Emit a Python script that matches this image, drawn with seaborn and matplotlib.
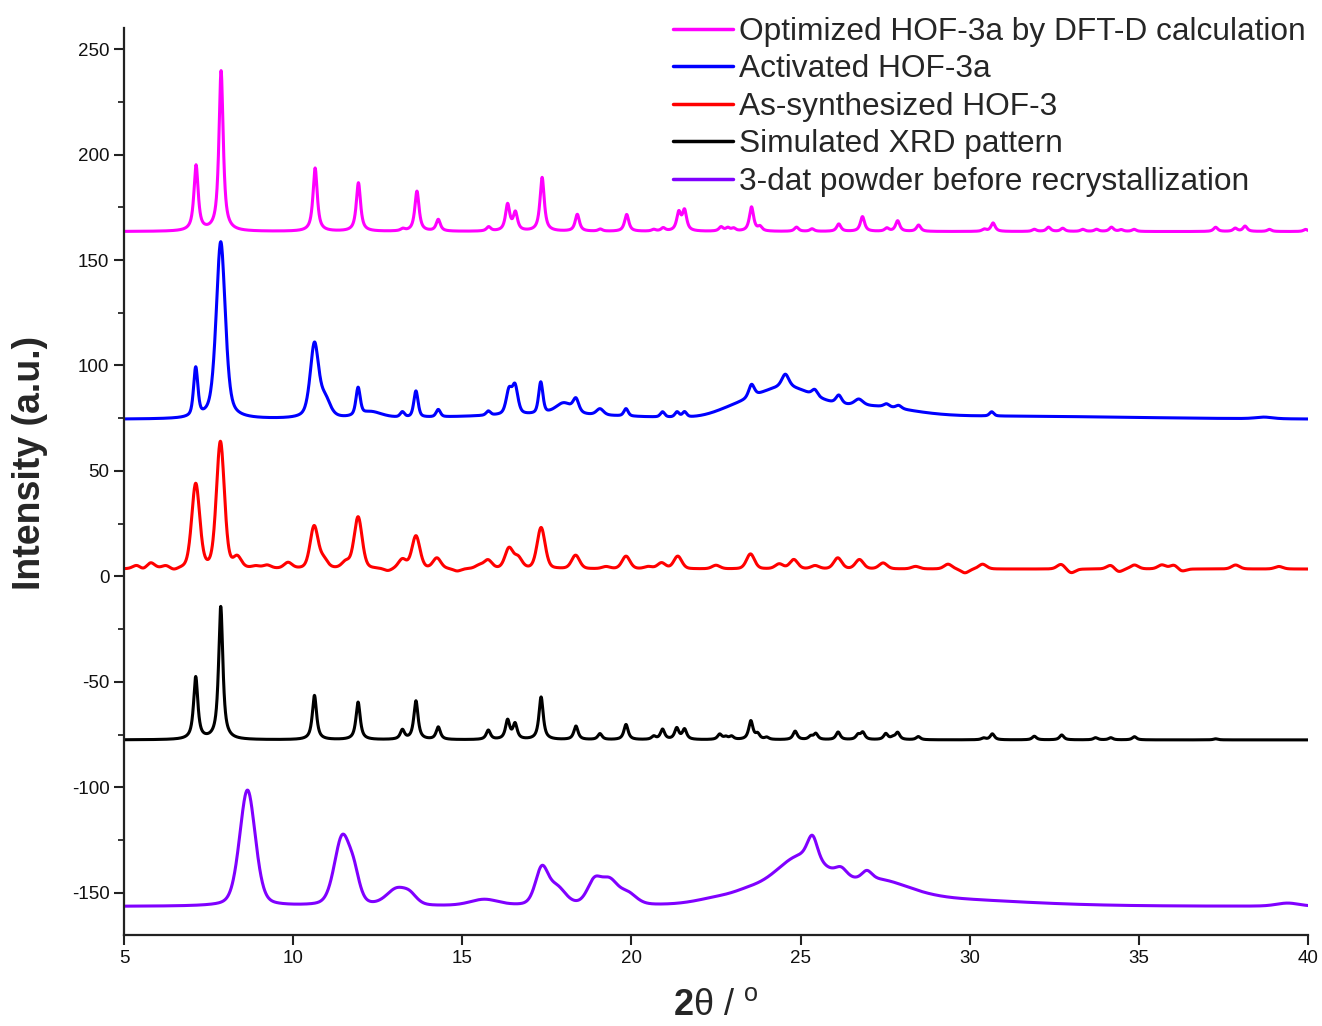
import numpy as np
import pandas as pd
import matplotlib
matplotlib.use('Agg')
import matplotlib.pyplot as plt
from matplotlib.ticker import MultipleLocator
import seaborn as sns

# Peak lists (2-theta, height above baseline, FWHM)
# Optimized HOF-3a by DFT-D calculation
opt_base = 163.5
opt_pos = [7.13, 7.87, 10.65, 11.93, 13.24, 13.66, 14.29, 15.78, 16.34, 16.57, 17.36,
           18.40, 19.08, 19.86, 20.66, 20.94, 21.40, 21.57, 22.65, 22.85, 23.02, 23.55,
           23.80, 24.88, 25.34, 26.13, 26.83, 27.55, 27.87, 28.49, 30.43, 30.69, 31.91,
           32.33, 32.75, 33.34, 33.75, 34.19, 34.48, 34.86, 37.27, 37.85, 38.14, 38.86, 39.93]
opt_hgt = [31, 76, 30, 23, 1, 19, 5.5, 2, 12.5, 8.5, 25.5,
           8, 1, 8, 0.8, 1.5, 8.5, 9.5, 2, 1.5, 1.3, 11.5,
           2, 2, 1.2, 3.5, 7, 1.5, 5, 3, 1, 4, 1,
           2, 1.5, 1, 1, 2, 0.8, 1, 2, 1.5, 2.5, 1, 1]
opt_fwhm = 0.15

# Activated HOF-3a
act_base = 74.5
act_pos = [7.12, 7.86, 10.63, 10.95, 11.92, 12.3, 13.23, 13.63, 14.29, 15.77, 16.38, 16.56,
           17.32, 18.0, 18.36, 19.07, 19.84, 20.92, 21.35, 21.57, 23.55, 24.55, 25.42,
           26.13, 26.72, 27.54, 27.9, 30.65, 38.7]
act_hgt = [23, 84, 35, 8, 13, 3, 2.5, 12.5, 3.5, 2, 11, 13,
           15, 5.5, 6, 3, 3.5, 2.5, 2.5, 2.5, 6, 6, 3,
           4, 3, 1.5, 1.5, 2, 0.8]
act_fwhm = [0.15, 0.32, 0.3, 0.35, 0.15, 0.8, 0.15, 0.15, 0.15, 0.15, 0.2, 0.2,
            0.15, 0.6, 0.2, 0.25, 0.15, 0.15, 0.15, 0.15, 0.2, 0.25, 0.2,
            0.2, 0.3, 0.2, 0.2, 0.15, 0.6]
# broad amorphous humps
act_hump_pos = [17.5, 23.0, 24.5, 27.0, 30.5]
act_hump_hgt = [2, 3, 14, 5, 1.5]
act_hump_fwhm = [6.0, 1.4, 2.1, 2.8, 10.0]

# As-synthesized HOF-3
syn_base = 3.5
syn_pos = [5.38, 5.56, 5.79, 6.24, 6.47, 7.12, 7.85, 8.35, 8.9, 9.23, 9.85, 10.62, 10.9,
           11.56, 11.92, 12.8, 13.23, 13.63, 14.25, 14.85, 15.5, 15.76, 16.38, 16.65,
           17.33, 18.35, 19.25, 19.84, 20.5, 20.89, 21.37, 22.5, 23.52, 24.37, 24.8,
           25.43, 26.1, 26.74, 27.44, 28.4, 29.36, 29.86, 30.38, 32.7, 33.0, 34.17,
           34.4, 34.87, 35.68, 36.04, 36.27, 37.86, 39.14]
syn_hgt = [1.7, -0.8, 2.8, 1.3, -1, 40, 60, 5, 1, 1.5, 2.8, 20, 4,
           3, 24.5, -1.2, 4.3, 15.5, 5, -1.2, 1.5, 4, 9.5, 5,
           19.5, 6.4, 1, 6, 1, 2.8, 6, 1.7, 7.1, 2.3, 4.4,
           1.5, 5.2, 4.4, 2.8, 1.2, 2.3, -1.9, 2.3, 2.3, -1.9, 1.9,
           -1.5, 1.9, 1.9, 1.9, -1.2, 1.9, 1.2]
syn_fwhm = 0.28

# Simulated XRD pattern
sim_base = -77.5
sim_pos = [7.12, 7.86, 10.63, 11.92, 13.23, 13.63, 14.29, 15.77, 16.34, 16.56, 17.33,
           18.36, 19.07, 19.84, 20.66, 20.92, 21.34, 21.57, 22.61, 22.79, 22.96, 23.53,
           23.73, 24.00, 24.84, 25.30, 25.45, 26.11, 26.70, 26.84, 27.52, 27.73, 27.87,
           28.48, 30.41, 30.67, 31.91, 32.72, 33.72, 34.17, 34.87, 37.27]
sim_hgt = [29.5, 63, 21, 17.8, 4.4, 18.3, 5.9, 4.4, 9, 7.2, 20.2,
           6.4, 2.8, 7.2, 1.5, 4.8, 5.3, 4.8, 2.5, 1.2, 1.5, 8.8,
           2.5, 1, 4, 1.5, 2.8, 3.6, 2.2, 3.3, 2.8, 1, 3.3,
           1.5, 0.8, 2.8, 1.7, 2.3, 1, 1, 1.5, 0.5]
sim_fwhm = 0.15

# 3-dat powder before recrystallization
dat_base = -156.5
dat_pos = [8.65, 11.45, 11.8, 13.05, 13.45, 15.65, 17.35, 17.8, 18.9, 19.35, 19.9,
           22.5, 23.4, 25.0, 25.35, 26.2, 26.96, 27.3, 29.0, 39.4]
dat_hgt = [55, 32, 11, 7.5, 4, 3, 17, 8, 10.5, 11, 5,
           2.5, 3, 22, 11, 4, 4, 9, 3, 1.5]
dat_fwhm = [0.55, 0.55, 0.4, 0.7, 0.5, 1.0, 0.45, 0.6, 0.5, 0.6, 0.6,
            1.5, 1.2, 2.0, 0.35, 0.4, 0.35, 2.2, 6.0, 0.8]

labels = ['Optimized HOF-3a by DFT-D calculation', 'Activated HOF-3a',
          'As-synthesized HOF-3', 'Simulated XRD pattern',
          '3-dat powder before recrystallization']
colors = ['#FF00FF', '#0000FF', '#FF0000', '#000000', '#8000FF']


def pseudo_voigt(x, pos, hgt, fwhm, eta):
    x = np.asarray(x)[:, None]
    pos = np.asarray(pos)[None, :]
    hgt = np.asarray(hgt, dtype=float)[None, :]
    fwhm = np.broadcast_to(np.asarray(fwhm, dtype=float), pos.shape)
    d = (x - pos) / fwhm
    lor = 1.0 / (1.0 + 4.0 * d ** 2)
    gau = np.exp(-4.0 * np.log(2) * d ** 2)
    return (hgt * (eta * lor + (1 - eta) * gau)).sum(axis=1)


tt = np.linspace(5, 40, 3501)
curves = [
    opt_base + pseudo_voigt(tt, opt_pos, opt_hgt, opt_fwhm, 0.85),
    act_base + pseudo_voigt(tt, act_pos, act_hgt, act_fwhm, 0.5)
    + pseudo_voigt(tt, act_hump_pos, act_hump_hgt, act_hump_fwhm, 0.0),
    syn_base + pseudo_voigt(tt, syn_pos, syn_hgt, syn_fwhm, 0.3),
    sim_base + pseudo_voigt(tt, sim_pos, sim_hgt, sim_fwhm, 0.85),
    dat_base + pseudo_voigt(tt, dat_pos, dat_hgt, dat_fwhm, 0.3),
]

sns.set_style('ticks')
plt.rcParams['font.family'] = ['Liberation Sans', 'DejaVu Sans']
plt.rcParams['axes.unicode_minus'] = False
plt.rcParams['mathtext.fontset'] = 'custom'
plt.rcParams['mathtext.rm'] = 'Liberation Sans'
plt.rcParams['mathtext.bf'] = 'Liberation Sans:bold'
plt.rcParams['mathtext.it'] = 'Liberation Sans:italic'

fig = plt.figure(figsize=(13.22, 10.26), dpi=100)
ax = fig.add_axes([0.0938, 0.0887, 0.8956, 0.884])

for y, lab, col in zip(curves, labels, colors):
    df = pd.DataFrame({'two_theta': tt, 'intensity': y})
    sns.lineplot(data=df, x='two_theta', y='intensity', ax=ax, color=col,
                 lw=2.2, label=lab, estimator=None, sort=False)

ax.set_xlim(5, 40)
ax.set_ylim(-170, 260)
ax.xaxis.set_major_locator(MultipleLocator(5))
ax.yaxis.set_major_locator(MultipleLocator(50))
ax.yaxis.set_minor_locator(MultipleLocator(25))
ax.tick_params(axis='both', which='major', direction='out', length=7, width=1.5,
               labelsize=13.5, color='#222222', labelcolor='#111111')
ax.tick_params(axis='y', which='minor', direction='out', length=4, width=1.3)
for side in ['top', 'right']:
    ax.spines[side].set_visible(False)
for side in ['left', 'bottom']:
    ax.spines[side].set_linewidth(1.6)
    ax.spines[side].set_color('#222222')

ax.set_ylabel('Intensity (a.u.)', fontsize=27, fontweight='bold')
ax.yaxis.set_label_coords(-0.064, 0.52)
ax.set_xlabel(r'$\mathbf{2}$θ / $^{\mathrm{o}}$', fontsize=26)
ax.xaxis.set_label_coords(0.5, -0.058)

leg = ax.legend(loc='upper right', bbox_to_anchor=(0.9925, 0.99),
                bbox_transform=fig.transFigure, frameon=False, fontsize=22.8,
                handlelength=1.9, handletextpad=0.2, labelspacing=0.24,
                borderpad=0.2, borderaxespad=0)
for line in leg.get_lines():
    line.set_linewidth(2.5)

fig.savefig('out.png', dpi=100)
